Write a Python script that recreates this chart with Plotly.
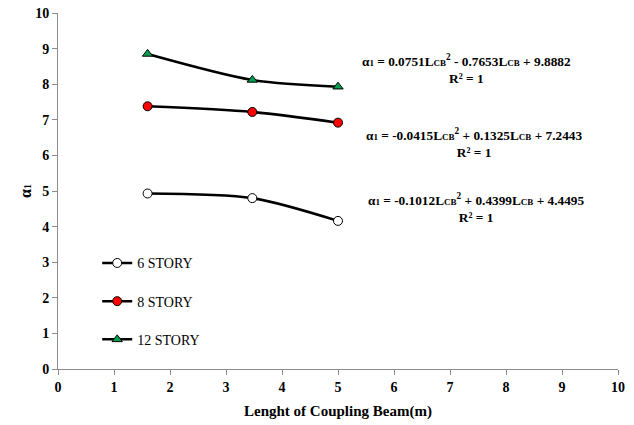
import plotly.graph_objects as go

lengths = [1.6, 3.47, 5.0]
story6 = [4.93, 4.80, 4.16]
story8 = [7.38, 7.22, 6.92]
story12 = [8.85, 8.12, 7.93]
series_names = ["6 STORY", "8 STORY", "12 STORY"]
tick_vals = list(range(0, 11))
tick_text = ["<b>%d</b>" % v for v in tick_vals]
x_title = "Lenght of Coupling Beam(m)"
equations = [
    "0.0751L<span style='font-size:9px'>CB</span><sup>2</sup> - 0.7653L<span style='font-size:9px'>CB</span> + 9.8882",
    "-0.0415L<span style='font-size:9px'>CB</span><sup>2</sup> + 0.1325L<span style='font-size:9px'>CB</span> + 7.2443",
    "-0.1012L<span style='font-size:9px'>CB</span><sup>2</sup> + 0.4399L<span style='font-size:9px'>CB</span> + 4.4495",
]
eq_pos = [(7.3, 8.42), (7.44, 6.34), (7.47, 4.52)]

FONT = "Liberation Serif"
fig = go.Figure()
styles = [
    dict(symbol="circle", color="white", size=9),
    dict(symbol="circle", color="#ff0000", size=9),
    dict(symbol="triangle-up", color="#00a050", size=9),
]
for name, ys, st in zip(series_names, [story6, story8, story12], styles):
    fig.add_trace(go.Scatter(
        x=lengths, y=ys, name=name, mode="lines+markers", legendgroup=name,
        line=dict(color="black", width=2.5, shape="spline", smoothing=0.8),
        marker=dict(symbol=st["symbol"], color=st["color"], size=st["size"],
                    line=dict(color="black", width=1)),
    ))

for eq, (x, y) in zip(equations, eq_pos):
    fig.add_annotation(
        x=x, y=y, xref="x", yref="y", showarrow=False,
        text="<b>α<span style='font-size:9px'>1</span> = " + eq + "<br>R² = 1</b>",
        font=dict(family=FONT, size=13.3, color="black"), align="center",
    )

fig.add_annotation(x=0.5, y=-0.118, xref="paper", yref="paper", showarrow=False,
                   xanchor="center", yanchor="middle",
                   text="<b>" + x_title + "</b>",
                   font=dict(family=FONT, size=15, color="black"))
fig.add_annotation(x=-0.059, y=0.5, xref="paper", yref="paper", showarrow=False,
                   xanchor="center", yanchor="middle", textangle=-90,
                   text="<b>α<span style='font-size:10px'>1</span></b>",
                   font=dict(family=FONT, size=16, color="black"))

axis_common = dict(
    showgrid=False, zeroline=False, showline=True, linecolor="#8c8c8c", linewidth=1,
    ticks="outside", ticklen=5, tickcolor="#8c8c8c",
    tickfont=dict(family=FONT, size=14, color="black"),
    tickvals=tick_vals, ticktext=tick_text, automargin=False,
)
fig.update_xaxes(range=[0, 10], **axis_common)
fig.update_yaxes(range=[0, 10], **axis_common)

fig.update_layout(
    width=634, height=425,
    margin=dict(l=58, r=16, t=13, b=56, autoexpand=False),
    paper_bgcolor="white", plot_bgcolor="white",
    showlegend=True,
    legend=dict(x=0.07, y=0.19, xanchor="left", yanchor="middle",
                bgcolor="rgba(0,0,0,0)", tracegroupgap=17,
                font=dict(family=FONT, size=14, color="black"),
                itemwidth=30),
)
fig.write_html("out.html", config={"displayModeBar": False},
               post_script="document.body.style.margin='0';")
